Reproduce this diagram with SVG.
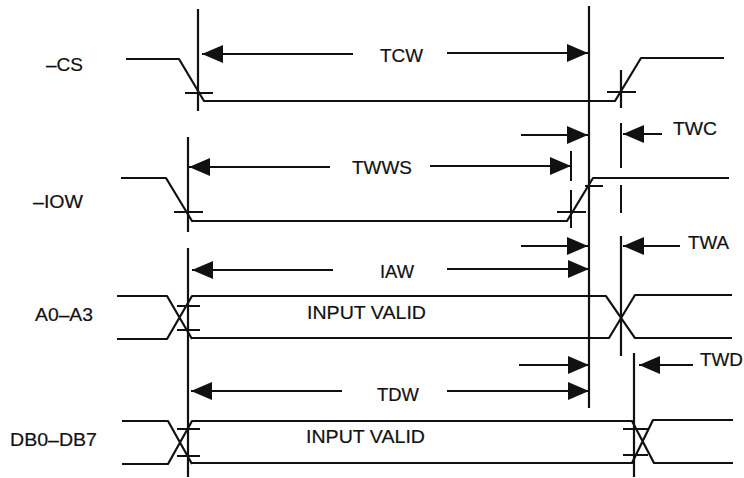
<svg xmlns="http://www.w3.org/2000/svg" width="744" height="478" viewBox="0 0 744 478">
<style>
text{font-family:"Liberation Sans",Arial,sans-serif;font-size:19px;fill:#111;stroke:#111;stroke-width:.2}
.w{fill:none;stroke:#111;stroke-width:2.2;stroke-linejoin:round}
.v{fill:none;stroke:#111;stroke-width:2.2}
.t{fill:none;stroke:#111;stroke-width:2}
.d{fill:none;stroke:#111;stroke-width:2}
</style>
<defs>
<marker id="a" markerUnits="userSpaceOnUse" markerWidth="21" markerHeight="18" refX="21" refY="9" orient="auto"><path d="M0 0L21 9L0 18Z" fill="#111"/></marker>
</defs>
<rect width="744" height="478" fill="#fff"/>
<g id="signal-cs"><path class="w" d="M126 59H179L204 101H615L641 58H724"/><path class="t" d="M185 93H213M607 92H636"/><text x="46" y="71" textLength="37" lengthAdjust="spacingAndGlyphs">–CS</text></g>
<g id="signal-iow"><path class="w" d="M121 178H166L192 221H567L593 178H729"/><path class="t" d="M174 212H203M557 212H586M585 186H603"/><text x="33" y="208" textLength="50" lengthAdjust="spacingAndGlyphs">–IOW</text></g>
<g id="signal-a0a3"><path class="w" d="M117 296H167L192 339M117 339H167L192 296H606L635 338H732M192 338H609L635 295H732"/><path class="t" d="M177 306H200M177 330H200"/><text x="35" y="321" textLength="58" lengthAdjust="spacingAndGlyphs">A0–A3</text><text x="307" y="319" textLength="119" lengthAdjust="spacingAndGlyphs">INPUT VALID</text></g>
<g id="signal-db"><path class="w" d="M122 421H168L192 464M122 464H168L192 421H632L654 463H733M192 463H632L653 420H733"/><path class="t" d="M177 429H200M177 456H200M623 429H648M623 455H648"/><text x="10" y="446" textLength="87" lengthAdjust="spacingAndGlyphs">DB0–DB7</text><text x="306" y="443" textLength="119" lengthAdjust="spacingAndGlyphs">INPUT VALID</text></g>
<g id="connectors">
<path class="v" d="M198 9V111M589 6V408M188 137V232M188 248V477M621 70V108M621 236V356M634 353V477"/>
<path class="d" d="M571 151V181M571 190V228M621 123V168M621 185V213"/>
<path class="d" marker-end="url(#a)" d="M353 54H202"/>
<path class="d" marker-end="url(#a)" d="M447 53H588"/>
<path class="d" marker-end="url(#a)" d="M521 135H588"/>
<path class="d" marker-end="url(#a)" d="M662 134H623"/>
<path class="d" marker-end="url(#a)" d="M330 167H189"/>
<path class="d" marker-end="url(#a)" d="M430 166H571"/>
<path class="d" marker-end="url(#a)" d="M521 246H588"/>
<path class="d" marker-end="url(#a)" d="M680 246H623"/>
<path class="d" marker-end="url(#a)" d="M333 270H192"/>
<path class="d" marker-end="url(#a)" d="M447 269H589"/>
<path class="d" marker-end="url(#a)" d="M519 365H589"/>
<path class="d" marker-end="url(#a)" d="M693 365H639"/>
<path class="d" marker-end="url(#a)" d="M342 391H191"/>
<path class="d" marker-end="url(#a)" d="M447 391H589"/>
</g>
<g id="labels">
<text x="380" y="62" textLength="43" lengthAdjust="spacingAndGlyphs">TCW</text>
<text x="352" y="174" textLength="60" lengthAdjust="spacingAndGlyphs">TWWS</text>
<text x="673" y="135" textLength="44" lengthAdjust="spacingAndGlyphs">TWC</text>
<text x="688" y="249" textLength="41" lengthAdjust="spacingAndGlyphs">TWA</text>
<text x="380" y="278" textLength="34" lengthAdjust="spacingAndGlyphs">IAW</text>
<text x="700" y="366" textLength="43" lengthAdjust="spacingAndGlyphs">TWD</text>
<text x="377" y="401" textLength="42" lengthAdjust="spacingAndGlyphs">TDW</text>
</g>
</svg>
